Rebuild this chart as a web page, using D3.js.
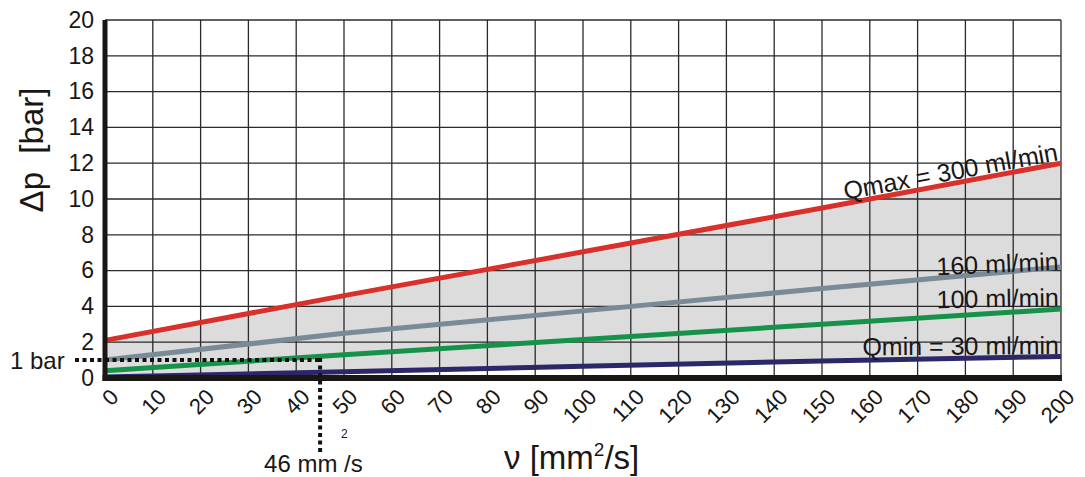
<!DOCTYPE html>
<html>
<head>
<meta charset="utf-8">
<script src="https://cdn.jsdelivr.net/npm/d3@7"></script>
<style>
  body { margin: 0; background: #fff; }
  svg { display: block; font-family: "Liberation Sans", Arial, sans-serif; }
</style>
</head>
<body>
<div id="chart"></div>
<script>
"use strict";

// viscosity (mm2/s) sample points and pressure drop (bar) per flow rate
const viscosity = [0, 50, 100, 150, 200];
const qmax300 = [2.1, 4.6, 7.05, 9.5, 12.0];
const q160 = [1.0, 2.5, 3.75, 5.0, 6.2];
const q100 = [0.4, 1.3, 2.15, 3.0, 3.85];
const qmin30 = [0.05, 0.35, 0.65, 0.95, 1.2];

const xTicks = d3.range(0, 201, 10);
const yTicks = d3.range(0, 21, 2);

const seriesNames = ["Qmax = 300 ml/min", "160 ml/min", "100 ml/min", "Qmin = 30 ml/min"];
const seriesValues = [qmax300, q160, q100, qmin30];
const seriesColors = ["#d8302a", "#788b97", "#17924a", "#2b2769"];

// worked example drawn on the chart
const exampleBar = 1;
const exampleVisc = 45;
const exampleLabel = "46 mm /s";

const margin = { top: 20, right: 24, bottom: 99, left: 105 };
const width = 1085 - margin.left - margin.right;
const height = 477 - margin.top - margin.bottom;

const translateStr = (x, y) => 'translate(' + x + ', ' + y + ')';

const x = d3.scaleLinear().domain([0, 200]).range([0, width]);
const y = d3.scaleLinear().domain([0, 20]).range([height, 0]);

const root = d3.select('#chart')
  .append('svg')
  .attr('width', 1085)
  .attr('height', 477);

const svg = root.append('g')
  .attr('transform', translateStr(margin.left, margin.top));

// shaded operating range between Qmin and Qmax
const band = viscosity.map((v, i) => ({ x: v, hi: qmax300[i], lo: qmin30[i] }));
svg.append('path')
  .datum(band)
  .attr('fill', '#dcdcdc')
  .attr('d', d3.area().x(d => x(d.x)).y0(d => y(d.lo)).y1(d => y(d.hi)));

// grid
svg.append('g')
  .selectAll('line')
  .data(xTicks)
  .join('line')
  .attr('x1', d => x(d)).attr('x2', d => x(d))
  .attr('y1', 0).attr('y2', height)
  .attr('stroke', '#2a2a2a')
  .attr('stroke-width', 1.3);

svg.append('g')
  .selectAll('line')
  .data(yTicks)
  .join('line')
  .attr('x1', 0).attr('x2', width)
  .attr('y1', d => y(d)).attr('y2', d => y(d))
  .attr('stroke', '#2a2a2a')
  .attr('stroke-width', 1.3);

// curves
const line = d3.line()
  .x(d => x(d.x))
  .y(d => y(d.y));

seriesValues.slice().reverse().forEach((vals, k) => {
  let i = seriesValues.length - 1 - k;
  svg.append('path')
    .datum(viscosity.map((v, j) => ({ x: v, y: vals[j] })))
    .attr('fill', 'none')
    .attr('stroke', seriesColors[i])
    .attr('stroke-width', 5)
    .attr('d', line);
});

// axes lines (thick)
svg.append('line')
  .attr('x1', 0).attr('x2', 0)
  .attr('y1', 0).attr('y2', height + 3)
  .attr('stroke', '#1a1614')
  .attr('stroke-width', 5);

svg.append('line')
  .attr('x1', -2.5).attr('x2', width + 1)
  .attr('y1', height).attr('y2', height)
  .attr('stroke', '#1a1614')
  .attr('stroke-width', 6);

// y tick labels
const yAxis = svg.append('g')
  .call(d3.axisLeft(y).tickValues(yTicks).tickSize(0).tickPadding(11));
yAxis.select('.domain').remove();
yAxis.selectAll('text')
  .attr('font-size', 23)
  .attr('font-family', '"Liberation Sans", Arial, sans-serif')
  .attr('fill', '#1a1614');

// x tick labels, rotated
const xAxis = svg.append('g')
  .attr('transform', translateStr(0, height))
  .call(d3.axisBottom(x).tickValues(xTicks).tickSize(0));
xAxis.select('.domain').remove();
xAxis.selectAll('text')
  .attr('font-size', 22)
  .attr('font-family', '"Liberation Sans", Arial, sans-serif')
  .attr('fill', '#1a1614')
  .attr('text-anchor', 'end')
  .attr('y', 0)
  .attr('dy', '0.35em')
  .attr('transform', 'translate(9, 15) rotate(-45)');

// curve labels
const labelDy = [-3, 3, -3, -2.5];
const labelAngle = [-10.5, -2.4, -1, -0.4];
seriesNames.forEach((name, i) => {
  let vals = seriesValues[i];
  svg.append('text')
    .attr('transform', translateStr(x(200) - 2, y(vals[vals.length - 1]) + labelDy[i]) +
      ' rotate(' + labelAngle[i] + ')')
    .attr('text-anchor', 'end')
    .attr('font-size', 25)
    .attr('fill', '#1a1614')
    .text(name);
});

// example: 1 bar at 46 mm2/s
svg.append('line')
  .attr('x1', -30).attr('x2', x(exampleVisc) + 2)
  .attr('y1', y(exampleBar)).attr('y2', y(exampleBar))
  .attr('stroke', '#111')
  .attr('stroke-width', 4)
  .attr('stroke-dasharray', '4 3.5');

svg.append('line')
  .attr('x1', x(exampleVisc)).attr('x2', x(exampleVisc))
  .attr('y1', y(exampleBar) - 2).attr('y2', height + 75)
  .attr('stroke', '#111')
  .attr('stroke-width', 4)
  .attr('stroke-dasharray', '4 3.5');

root.append('text')
  .attr('x', 10)
  .attr('y', margin.top + y(exampleBar))
  .attr('dy', '0.35em')
  .attr('font-size', 24)
  .attr('fill', '#1a1614')
  .text('1 bar');

root.append('text')
  .attr('x', margin.left + x(exampleVisc) - 56)
  .attr('y', 472)
  .attr('font-size', 24)
  .attr('fill', '#1a1614')
  .text(exampleLabel);

root.append('text')
  .attr('x', margin.left + x(exampleVisc) + 21)
  .attr('y', 438)
  .attr('font-size', 12)
  .attr('fill', '#1a1614')
  .text('2');

// axis titles
root.append('text')
  .attr('transform', translateStr(43, 150) + ' rotate(-90)')
  .attr('text-anchor', 'middle')
  .attr('font-size', 33)
  .attr('fill', '#1a1614')
  .attr('xml:space', 'preserve')
  .text('\u0394p  [bar]');

const xTitle = root.append('text')
  .attr('x', 504)
  .attr('y', 469)
  .attr('font-size', 33)
  .attr('fill', '#1a1614');
xTitle.append('tspan').text('\u03bd [mm');
xTitle.append('tspan').attr('font-size', 19).attr('dy', -13).text('2');
xTitle.append('tspan').attr('dy', 13).text('/s]');
</script>
</body>
</html>
